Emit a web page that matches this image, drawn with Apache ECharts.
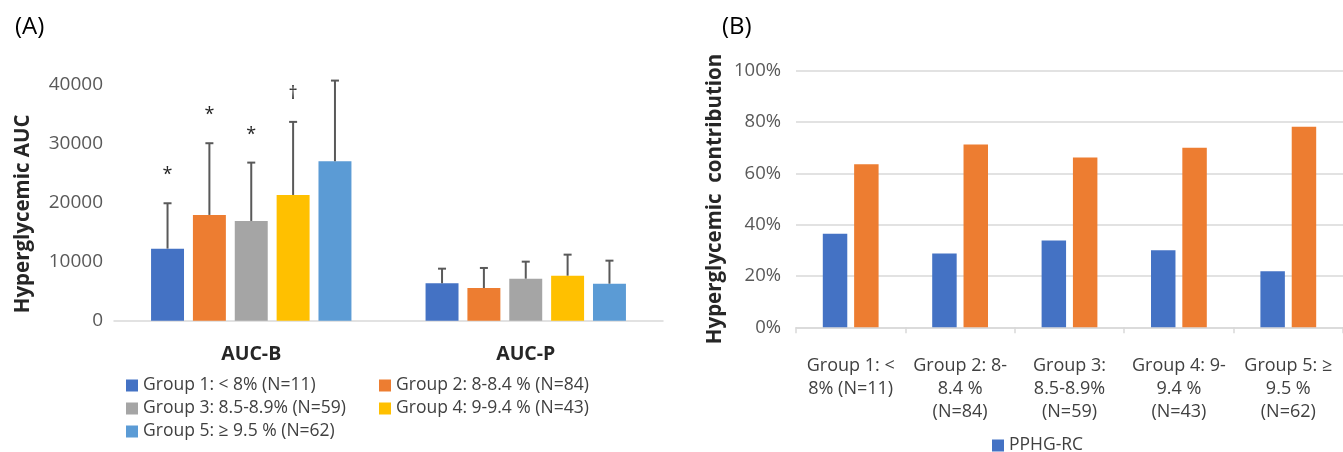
<!DOCTYPE html>
<html><head><meta charset="utf-8">
<script src="https://cdn.jsdelivr.net/npm/echarts@6/dist/echarts.min.js"></script>
<style>html,body{margin:0;padding:0;background:#fff}#c{width:1343px;height:452px}</style>
</head><body><div id="c"></div>
<script>
// ---- Panel A data ----
const aCategories = ['AUC-B', 'AUC-P'];
const groupNames = ['Group 1: < 8% (N=11)', 'Group 2: 8-8.4 % (N=84)', 'Group 3: 8.5-8.9% (N=59)', 'Group 4: 9-9.4 % (N=43)', 'Group 5: ≥ 9.5 % (N=62)'];
const aucB = [12230, 17950, 16930, 21340, 27060];
const aucP = [6350, 5550, 7130, 7640, 6280];
const sdB = [7700, 12170, 9900, 12400, 13690];
const sdP = [2480, 3400, 2890, 3570, 3910];
const markB = ['*', '*', '*', '†', ''];
const markP = ['', '', '', '', ''];
const aTicks = [0, 10000, 20000, 30000, 40000];
// ---- Panel B data ----
const bCategories = ['Group 1: <\n8% (N=11)', 'Group 2: 8-\n8.4 %\n(N=84)', 'Group 3:\n8.5-8.9%\n(N=59)', 'Group 4: 9-\n9.4 %\n(N=43)', 'Group 5: ≥\n9.5 %\n(N=62)'];
const pphgRC = [36.5, 28.8, 33.8, 30.0, 21.8];
const bhgRC = [63.5, 71.2, 66.2, 70.0, 78.2];
const bTicks = [0, 20, 40, 60, 80, 100];

const colors = ['#4472C4', '#ED7D31', '#A5A5A5', '#FFC000', '#5B9BD5'];
const FONT = 'Open Sans';
const catGapA = 0.27, barGapA = 0.27;

const series = [];
groupNames.forEach((g, i) => {
  series.push({
    type: 'bar', name: g, xAxisIndex: 0, yAxisIndex: 0,
    data: [aucB[i], aucP[i]],
    itemStyle: { color: colors[i] },
    barCategoryGap: (catGapA * 100) + '%', barGap: (barGapA * 100) + '%'
  });
});
groupNames.forEach((g, i) => {
  series.push({
    type: 'custom', name: g + ' err', xAxisIndex: 0, yAxisIndex: 0, z: 5, clip: false,
    data: [[0, aucB[i], aucB[i] + sdB[i]], [1, aucP[i], aucP[i] + sdP[i]]],
    renderItem: function (params, api) {
      const cat = api.value(0), v = api.value(1), top = api.value(2);
      const mark = params.dataIndex === 0 ? markB[i] : markP[i];
      const p0 = api.coord([cat, v]);
      const p1 = api.coord([cat, top]);
      const band = api.size([1, 0])[0];
      const n = groupNames.length;
      const usable = band * (1 - catGapA);
      const bw = usable / (n + (n - 1) * barGapA);
      const x = p0[0] - usable / 2 + i * bw * (1 + barGapA) + bw / 2;
      const st = { stroke: '#595959', lineWidth: 2 };
      const children = [
        { type: 'line', shape: { x1: x, y1: p0[1], x2: x, y2: p1[1] }, style: st },
        { type: 'line', shape: { x1: x - 4, y1: p1[1], x2: x + 4, y2: p1[1] }, style: st }
      ];
      if (mark) {
        children.push({ type: 'text', x: x, y: p1[1] - 28, style: { text: mark, fill: '#262626', font: '18px "' + FONT + '"', align: 'center', verticalAlign: 'middle' } });
      }
      return { type: 'group', children: children };
    }
  });
});
series.push({ type: 'bar', name: 'PPHG-RC', xAxisIndex: 1, yAxisIndex: 1, data: pphgRC, itemStyle: { color: '#4472C4' }, barCategoryGap: '49%', barGap: '28%' });
series.push({ type: 'bar', name: 'BHG-RC', xAxisIndex: 1, yAxisIndex: 1, data: bhgRC, itemStyle: { color: '#ED7D31' }, barCategoryGap: '49%', barGap: '28%' });

const legTxt = { fontFamily: FONT, fontSize: 17.5, color: '#404040', lineHeight: 17 };
const option = {
  animation: false,
  textStyle: { fontFamily: FONT },
  graphic: [
    { type: 'text', left: 15, top: 15, style: { text: '(A)', font: '24px "' + FONT + '"', fill: '#000' } },
    { type: 'text', left: 722, top: 15, style: { text: '(B)', font: '24px "' + FONT + '"', fill: '#000' } }
  ],
  grid: [
    { left: 114, top: 85, width: 549, height: 235.7 },
    { left: 796, top: 70.7, width: 553, height: 256.6 }
  ],
  xAxis: [
    { type: 'category', gridIndex: 0, data: aCategories, axisLine: { lineStyle: { color: '#d9d9d9', width: 1.5 } }, axisTick: { show: false },
      axisLabel: { fontFamily: FONT, fontSize: 19.5, fontWeight: 'bold', color: '#262626', margin: 24 } },
    { type: 'category', gridIndex: 1, data: bCategories, axisLine: { lineStyle: { color: '#d9d9d9', width: 1.5 } }, axisTick: { show: true, length: 6, lineStyle: { color: '#d9d9d9', width: 1.5 } },
      axisLabel: { fontFamily: FONT, fontSize: 18, color: '#404040', margin: 27, lineHeight: 23, interval: 0, hideOverlap: false } }
  ],
  yAxis: [
    { type: 'value', gridIndex: 0, min: aTicks[0], max: aTicks[aTicks.length - 1], interval: aTicks[1] - aTicks[0],
      splitLine: { show: false }, axisLine: { show: false }, axisTick: { show: false },
      axisLabel: { fontFamily: FONT, fontSize: 19, color: '#595959', margin: 11, formatter: v => String(v) },
      name: 'Hyperglycemic AUC', nameLocation: 'middle', nameRotate: 90, nameGap: 80,
      nameTextStyle: { fontFamily: FONT, fontSize: 20.5, fontWeight: 'bold', color: '#262626', padding: [0, 22, 0, 0] } },
    { type: 'value', gridIndex: 1, min: bTicks[0], max: bTicks[bTicks.length - 1], interval: bTicks[1] - bTicks[0],
      splitLine: { lineStyle: { color: '#d9d9d9', width: 1.5 } }, axisLine: { show: false }, axisTick: { show: false },
      axisLabel: { fontFamily: FONT, fontSize: 18.5, color: '#595959', margin: 15, formatter: '{value}%' },
      name: 'Hyperglycemic  contribution', nameLocation: 'middle', nameRotate: 90, nameGap: 70,
      nameTextStyle: { fontFamily: FONT, fontSize: 20.5, fontWeight: 'bold', color: '#262626' } }
  ],
  legend: [
    { data: [groupNames[0], groupNames[2], groupNames[4]], orient: 'vertical', left: 126, top: 376.5, padding: 0, itemWidth: 12, itemHeight: 12, itemGap: 5, icon: 'rect', textStyle: legTxt },
    { data: [groupNames[1], groupNames[3]], orient: 'vertical', left: 379, top: 376.5, padding: 0, itemWidth: 12, itemHeight: 12, itemGap: 5, icon: 'rect', textStyle: legTxt },
    { data: ['PPHG-RC'], left: 992, top: 436.5, padding: 0, itemWidth: 12, itemHeight: 12, icon: 'rect', textStyle: legTxt }
  ],
  series: series
};
const chart = echarts.init(document.getElementById('c'));
chart.setOption(option);
</script></body></html>
